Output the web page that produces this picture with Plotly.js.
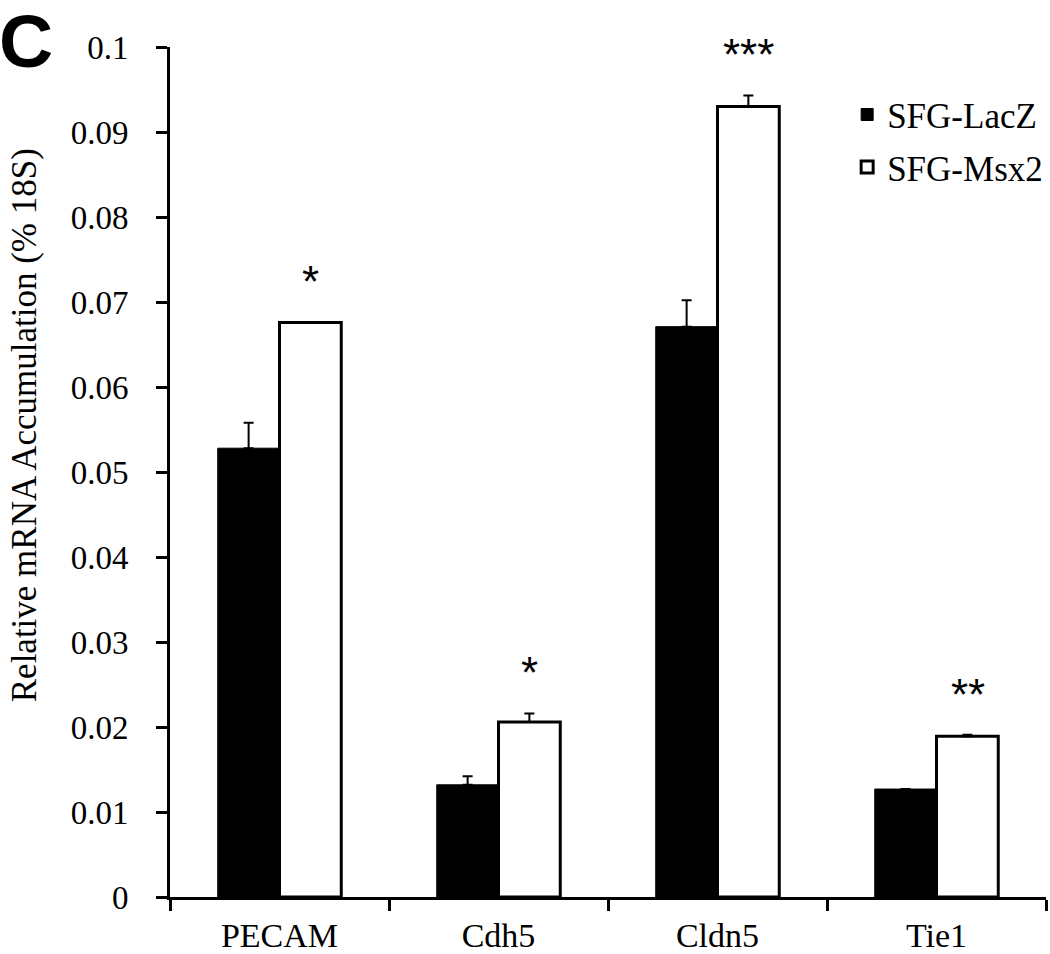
<!DOCTYPE html>
<html>
<head>
<meta charset="utf-8">
<script src="https://cdn.plot.ly/plotly-3.0.1.min.js"></script>
<style>
  html, body { margin: 0; padding: 0; background: #fff; }
  #chart { width: 1050px; height: 954px; }
</style>
</head>
<body>
<div id="chart"></div>
<script>
// ---- data ----
const categories = ["PECAM", "Cdh5", "Cldn5", "Tie1"];
const lacZValues = [0.0528, 0.0132, 0.0671, 0.0127];
const lacZErrors = [0.0030, 0.0010, 0.0031, null];
const msx2Values = [0.0676, 0.0206, 0.0930, 0.0189];
const msx2Errors = [null, 0.0010, 0.0013, 0.0002];
const significance = ["*", "*", "***", "**"];
const yTickVals = [0, 0.01, 0.02, 0.03, 0.04, 0.05, 0.06, 0.07, 0.08, 0.09, 0.1];
const yTickText = ["0", "0.01", "0.02", "0.03", "0.04", "0.05", "0.06", "0.07", "0.08", "0.09", "0.1"];
const yTitle = "Relative mRNA Accumulation (% 18S)";
const panelLabel = "C";

const serif = "Liberation Serif, Times New Roman, serif";
const sans = "Liberation Sans, Arial, sans-serif";

const zeros = a => a.map(v => (v === null ? null : 0));

const traces = [
  {
    type: "bar", name: "SFG-LacZ", x: categories, y: lacZValues,
    marker: { color: "#000000", line: { color: "#000000", width: 1 } },
    error_y: { type: "data", array: lacZErrors, arrayminus: zeros(lacZErrors), symmetric: false,
               color: "#000000", thickness: 2, width: 5, visible: true },
    legendgroup: "a", cliponaxis: false
  },
  {
    type: "bar", name: "SFG-Msx2", x: categories, y: msx2Values,
    marker: { color: "#ffffff", line: { color: "#000000", width: 3 } },
    error_y: { type: "data", array: msx2Errors, arrayminus: zeros(msx2Errors), symmetric: false,
               color: "#000000", thickness: 2, width: 5, visible: true },
    legendgroup: "b", cliponaxis: false
  }
];

const annotations = categories.map((c, i) => ({
  x: c, y: msx2Values[i] + (msx2Errors[i] || 0), xref: "x", yref: "y",
  xshift: 31, yshift: 14, yanchor: "bottom", xanchor: "center",
  text: significance[i], showarrow: false,
  font: { family: sans, size: 44, color: "#000" }
}));
annotations.push({
  x: 0, y: 1, xref: "paper", yref: "paper", xanchor: "left", yanchor: "top",
  xshift: -173, yshift: 50,
  text: "<b>" + panelLabel + "</b>", showarrow: false,
  font: { family: sans, size: 75, color: "#000" }
});
annotations.push({
  x: 0, y: 0.555, xref: "paper", yref: "paper", xanchor: "center", yanchor: "middle",
  xshift: -146, textangle: -90,
  text: yTitle, showarrow: false,
  font: { family: serif, size: 35, color: "#000" }
});

const layout = {
  width: 1050, height: 954,
  margin: { l: 170, r: 2, t: 47, b: 57 },
  paper_bgcolor: "#ffffff", plot_bgcolor: "#ffffff",
  barmode: "group", bargap: 0.436, bargroupgap: 0,
  showlegend: true,
  legend: {
    x: 0.773, y: 0.955, xanchor: "left", yanchor: "top",
    font: { family: serif, size: 35, color: "#000" },
    bgcolor: "rgba(0,0,0,0)", traceorder: "grouped", tracegroupgap: 4,
    itemwidth: 30
  },
  xaxis: {
    type: "category", range: [-0.5, 3.5],
    showline: true, linecolor: "#000", linewidth: 3,
    ticks: "outside", ticklen: 11, tickwidth: 3, tickcolor: "#000",
    tickson: "boundaries", showgrid: false, zeroline: false,
    tickfont: { family: serif, size: 34, color: "#000" },
    ticklabelstandoff: 6
  },
  yaxis: {
    range: [0, 0.1], tickvals: yTickVals, ticktext: yTickText,
    showline: true, linecolor: "#000", linewidth: 3,
    ticks: "outside", ticklen: 11, tickwidth: 3, tickcolor: "#000",
    showgrid: false, zeroline: false,
    tickfont: { family: serif, size: 33, color: "#000" },
    ticklabelstandoff: 21
  },
  annotations: annotations
};

Plotly.newPlot("chart", traces, layout, { displayModeBar: false, staticPlot: true });
</script>
</body>
</html>
